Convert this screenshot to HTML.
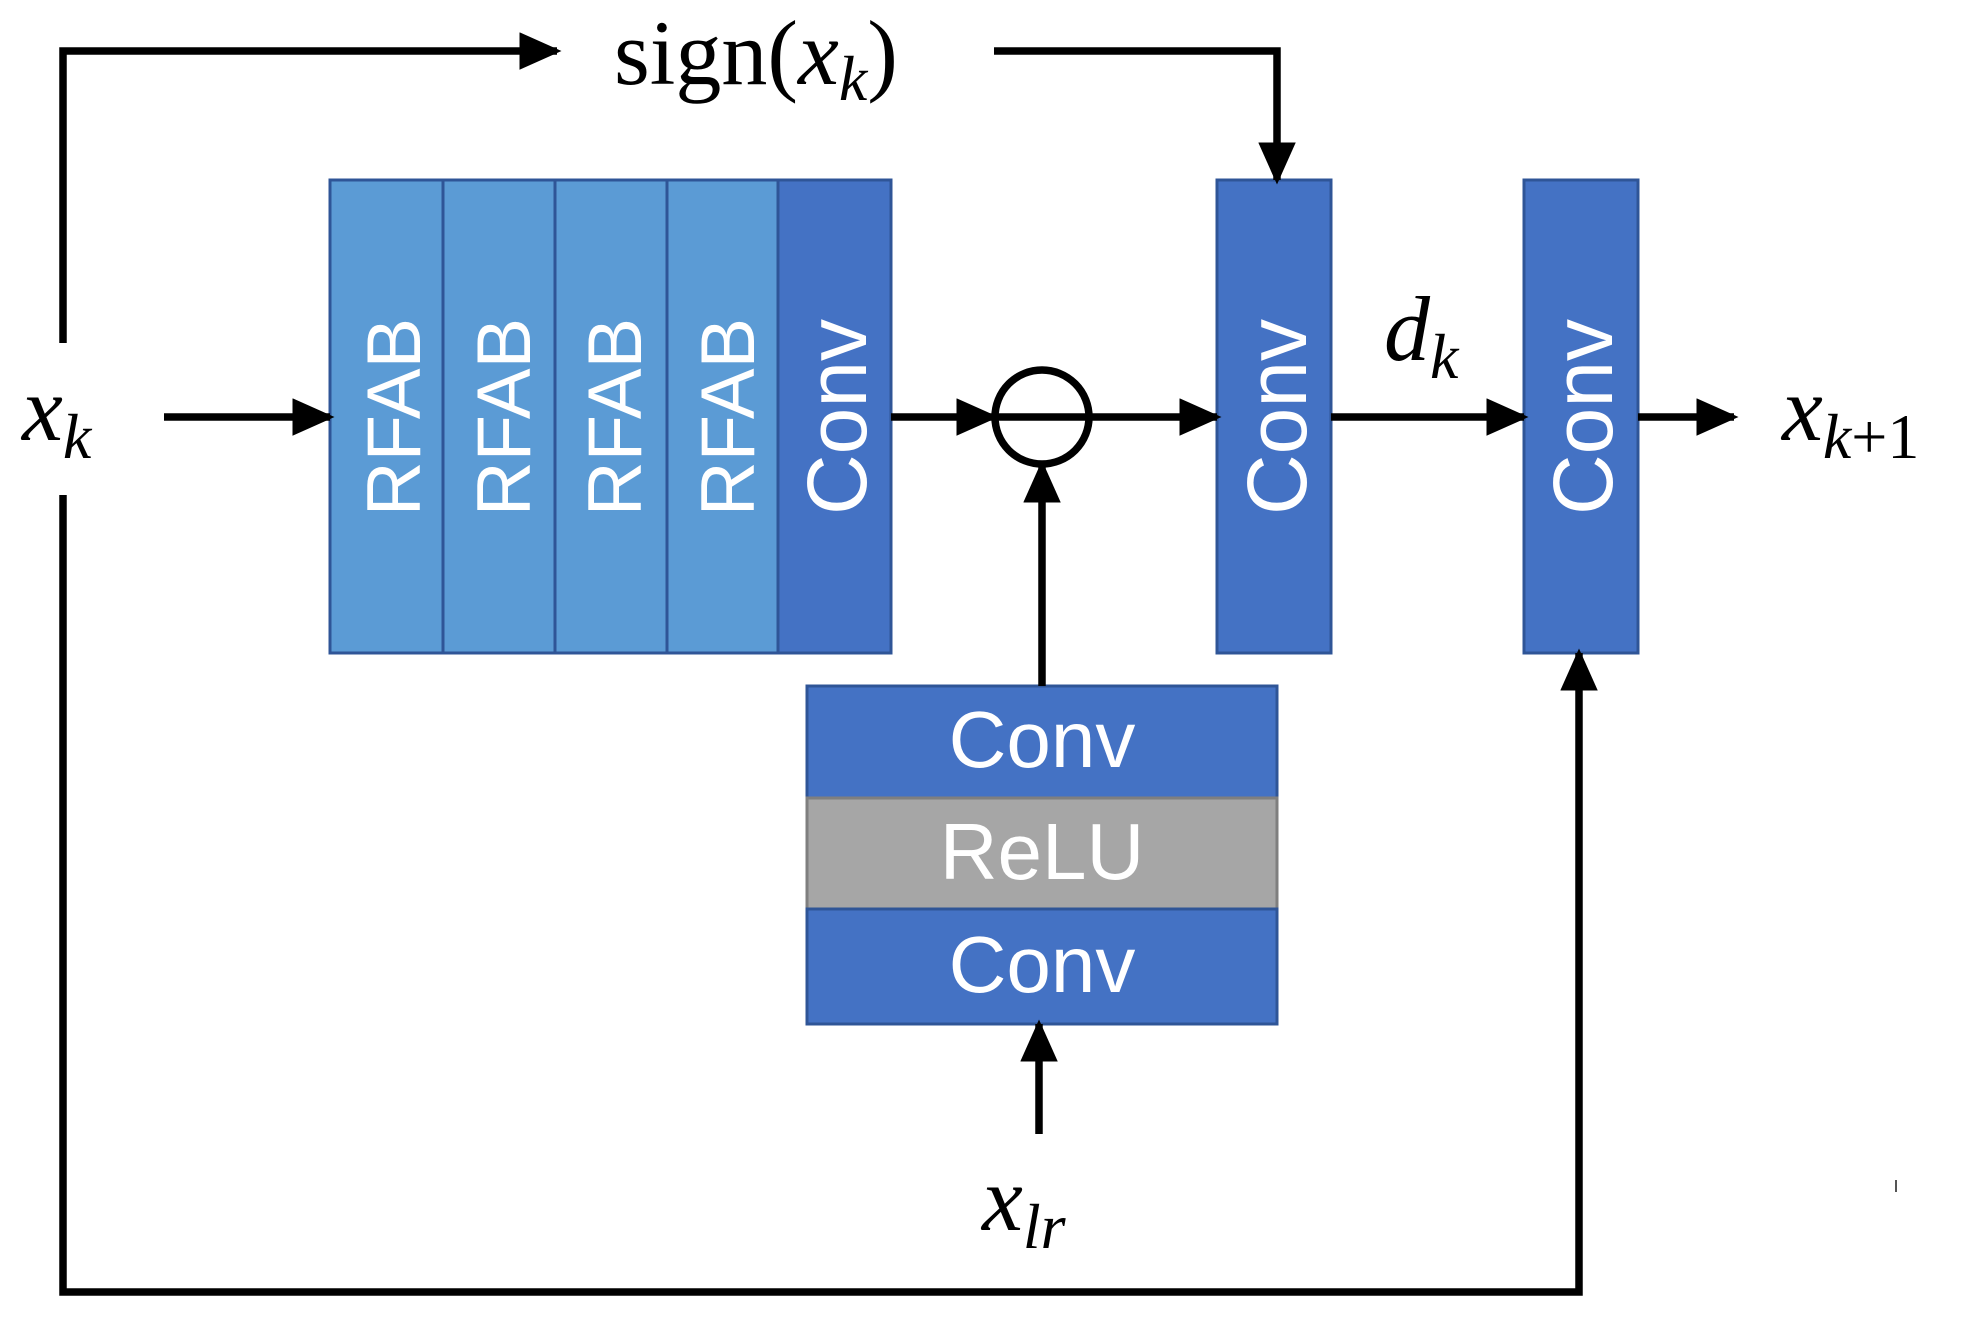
<!DOCTYPE html>
<html><head><meta charset="utf-8"><style>
body{margin:0;background:#fff;width:1973px;height:1327px;overflow:hidden}
</style></head><body>
<svg width="1973" height="1327" viewBox="0 0 1973 1327" xmlns="http://www.w3.org/2000/svg">
<defs>
<marker id="a" markerWidth="5.6" markerHeight="5" refX="5" refY="2.5" orient="auto" markerUnits="strokeWidth"><path d="M0,0 L5.6,2.5 L0,5 z" fill="#000"/></marker>
</defs>
<g stroke="#2f5597" stroke-width="3">
<rect x="330" y="180" width="113" height="473" fill="#5b9bd5"/>
<rect x="443" y="180" width="112" height="473" fill="#5b9bd5"/>
<rect x="555" y="180" width="112" height="473" fill="#5b9bd5"/>
<rect x="667" y="180" width="111" height="473" fill="#5b9bd5"/>
<rect x="778" y="180" width="113" height="473" fill="#4472c4"/>
<rect x="1217" y="180" width="114" height="473" fill="#4472c4"/>
<rect x="1524" y="180" width="114" height="473" fill="#4472c4"/>
<rect x="807" y="686" width="470" height="112" fill="#4472c4"/>
<rect x="807" y="798" width="470" height="111" fill="#a6a6a6" stroke="#7f7f7f"/>
<rect x="807" y="909" width="470" height="115" fill="#4472c4"/>
</g>
<g fill="#fff" font-family="Liberation Sans, sans-serif" font-size="76" text-anchor="middle">
<text transform="translate(420,417) rotate(-90)">RFAB</text>
<text transform="translate(530,417) rotate(-90)">RFAB</text>
<text transform="translate(641,417) rotate(-90)">RFAB</text>
<text transform="translate(754,417) rotate(-90)">RFAB</text>
<g font-size="84">
<text transform="translate(866,417) rotate(-90)">Conv</text>
<text transform="translate(1306,417) rotate(-90)">Conv</text>
<text transform="translate(1612,417) rotate(-90)">Conv</text>
</g>
<text x="1042" y="767" font-size="80">Conv</text>
<text x="1042" y="879" font-size="80">ReLU</text>
<text x="1042" y="992" font-size="80">Conv</text>
</g>
<g stroke="#000" stroke-width="7.5" fill="none">
<polyline points="63,343 63,51 557,51" marker-end="url(#a)"/>
<polyline points="994,51 1277,51 1277,180" marker-end="url(#a)"/>
<line x1="164" y1="417" x2="330" y2="417" marker-end="url(#a)"/>
<line x1="891" y1="417" x2="994" y2="417" marker-end="url(#a)"/>
<line x1="1090" y1="417" x2="1217" y2="417" marker-end="url(#a)"/>
<line x1="1331" y1="417" x2="1524" y2="417" marker-end="url(#a)"/>
<line x1="1638" y1="417" x2="1734" y2="417" marker-end="url(#a)"/>
<line x1="994" y1="417" x2="1090" y2="417"/>
<circle cx="1042" cy="417" r="47"/>
<line x1="1042" y1="686" x2="1042" y2="465" marker-end="url(#a)"/>
<line x1="1039" y1="1134" x2="1039" y2="1024" marker-end="url(#a)"/>
<polyline points="63,495 63,1292 1579,1292 1579,653" marker-end="url(#a)"/>
</g>
<line x1="1896" y1="1180" x2="1896" y2="1192" stroke="#555" stroke-width="2"/>
<g font-family="Liberation Serif, serif" font-size="92" fill="#000">
<text x="614" y="84">sign(<tspan font-style="italic">x</tspan><tspan font-style="italic" font-size="64" dy="16">k</tspan><tspan dy="-16">)</tspan></text>
<text x="22" y="440" font-style="italic">x<tspan font-size="64" dy="18">k</tspan></text>
<text x="1384" y="360" font-style="italic">d<tspan font-size="64" dy="18">k</tspan></text>
<text x="1782" y="440" font-style="italic">x<tspan font-size="64" dy="18">k</tspan><tspan font-style="normal" font-size="64">+1</tspan></text>
<text x="982" y="1230" font-style="italic">x<tspan font-size="64" dy="18">lr</tspan></text>
</g>
</svg>
</body></html>
